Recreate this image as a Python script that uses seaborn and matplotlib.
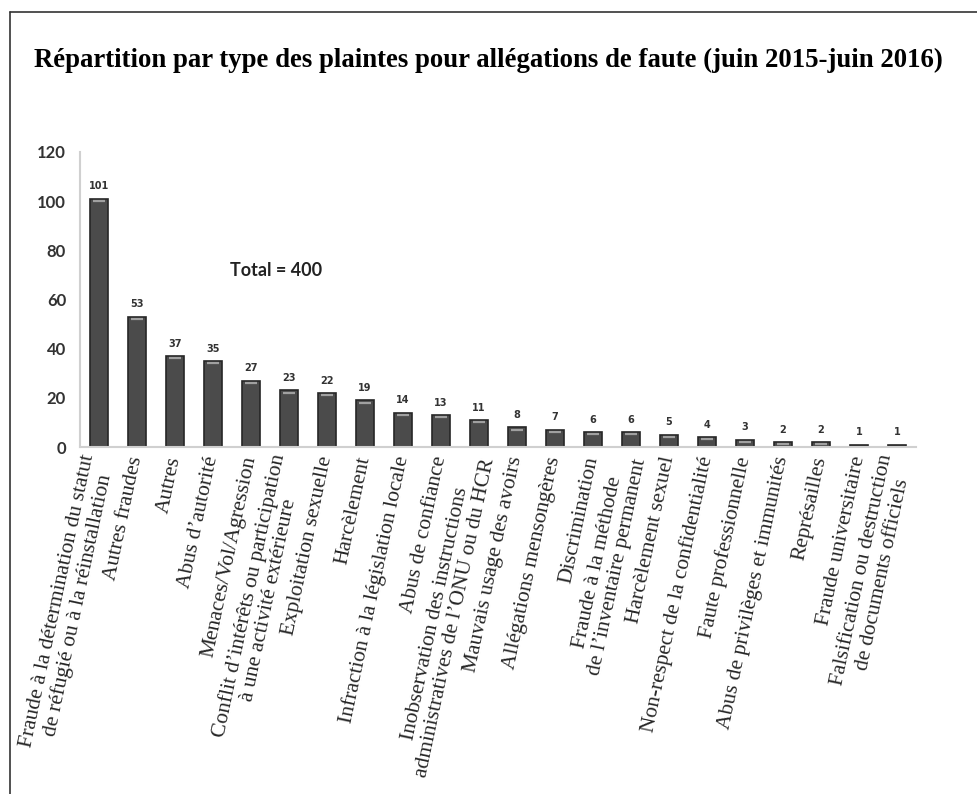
import matplotlib
matplotlib.use("Agg")
import matplotlib.pyplot as plt
import seaborn as sns
import pandas as pd
from matplotlib.lines import Line2D

categories = [
    "Fraude à la détermination du statut\nde réfugié ou à la réinstallation",
    "Autres fraudes",
    "Autres",
    "Abus d\u2019autorité",
    "Menaces/Vol/Agression",
    "Conflit d\u2019intérêts ou participation\nà une activité extérieure",
    "Exploitation sexuelle",
    "Harcèlement",
    "Infraction à la législation locale",
    "Abus de confiance",
    "Inobservation des instructions\nadministratives de l\u2019ONU ou du HCR",
    "Mauvais usage des avoirs",
    "Allégations mensongères",
    "Discrimination",
    "Fraude à la méthode\nde l\u2019inventaire permanent",
    "Harcèlement sexuel",
    "Non-respect de la confidentialité",
    "Faute professionnelle",
    "Abus de privilèges et immunités",
    "Représailles",
    "Fraude universitaire",
    "Falsification ou destruction\nde documents officiels",
]
counts = [101, 53, 37, 35, 27, 23, 22, 19, 14, 13, 11, 8, 7, 6, 6, 5, 4, 3, 2, 2, 1, 1]
yticks = [0, 20, 40, 60, 80, 100, 120]
title = "Répartition par type des plaintes pour allégations de faute (juin 2015-juin 2016)"
total_text = "Total = 400"

df = pd.DataFrame({"cat": categories, "n": counts})

sns.set_theme(style="white")
fig = plt.figure(figsize=(9.77, 7.94), dpi=100)
ax = fig.add_axes([80 / 977, 1 - 447 / 794, 836 / 977, 295 / 794])

sns.barplot(data=df, x="cat", y="n", ax=ax, color="#4b4b4b", width=0.45,
            edgecolor="#262626", linewidth=1.2, saturation=1)

# highlight line near the top of each bar
for p in ax.patches:
    x0 = p.get_x()
    w = p.get_width()
    h = p.get_height()
    if h >= 2:
        ax.plot([x0 + w * 0.15, x0 + w * 0.85], [h - 0.9, h - 0.9],
                color="#a0a0a0", lw=1.6, solid_capstyle="butt")

for i, v in enumerate(counts):
    ax.text(i, v + 3, str(v), ha="center", va="bottom", fontsize=7,
            fontweight="bold", color="#333333", family="DejaVu Sans")

ax.set_ylim(0, 120)
ax.set_xlim(-0.5, len(categories) - 0.5)
ax.set_yticks(yticks)
ax.set_yticklabels([str(t) for t in yticks], fontsize=12, fontweight="bold",
                   color="#333333", family="Lato")
ax.tick_params(axis="y", length=0, pad=10)
ax.tick_params(axis="x", length=0, pad=7)
ax.set_xticks(range(len(categories)))
ax.set_xticklabels(categories, rotation=78, ha="right", va="center",
                   rotation_mode="anchor", fontsize=15.5, family="Liberation Serif",
                   multialignment="center", linespacing=1.1)
ax.set_xlabel("")
ax.set_ylabel("")
for s in ["top", "right"]:
    ax.spines[s].set_visible(False)
for s in ["left", "bottom"]:
    ax.spines[s].set_color("#d0d0d0")
    ax.spines[s].set_linewidth(1.5)

ax.text(0.234, 0.597, total_text, transform=ax.transAxes, ha="center", va="center",
        fontsize=13, fontweight="bold", color="#222222", family="Lato")

fig.text(0.5, 1 - 60 / 794, title, ha="center", va="center", fontsize=19.3,
         fontweight="bold", family="Liberation Serif", color="black")

# figure border (left and top edges visible)
fig.add_artist(Line2D([10 / 977, 10 / 977], [0, 1 - 12 / 794], transform=fig.transFigure,
                      color="#333333", lw=1.2))
fig.add_artist(Line2D([10 / 977, 1], [1 - 12 / 794, 1 - 12 / 794], transform=fig.transFigure,
                      color="#333333", lw=1.2))

fig.savefig("out.png", dpi=100)
